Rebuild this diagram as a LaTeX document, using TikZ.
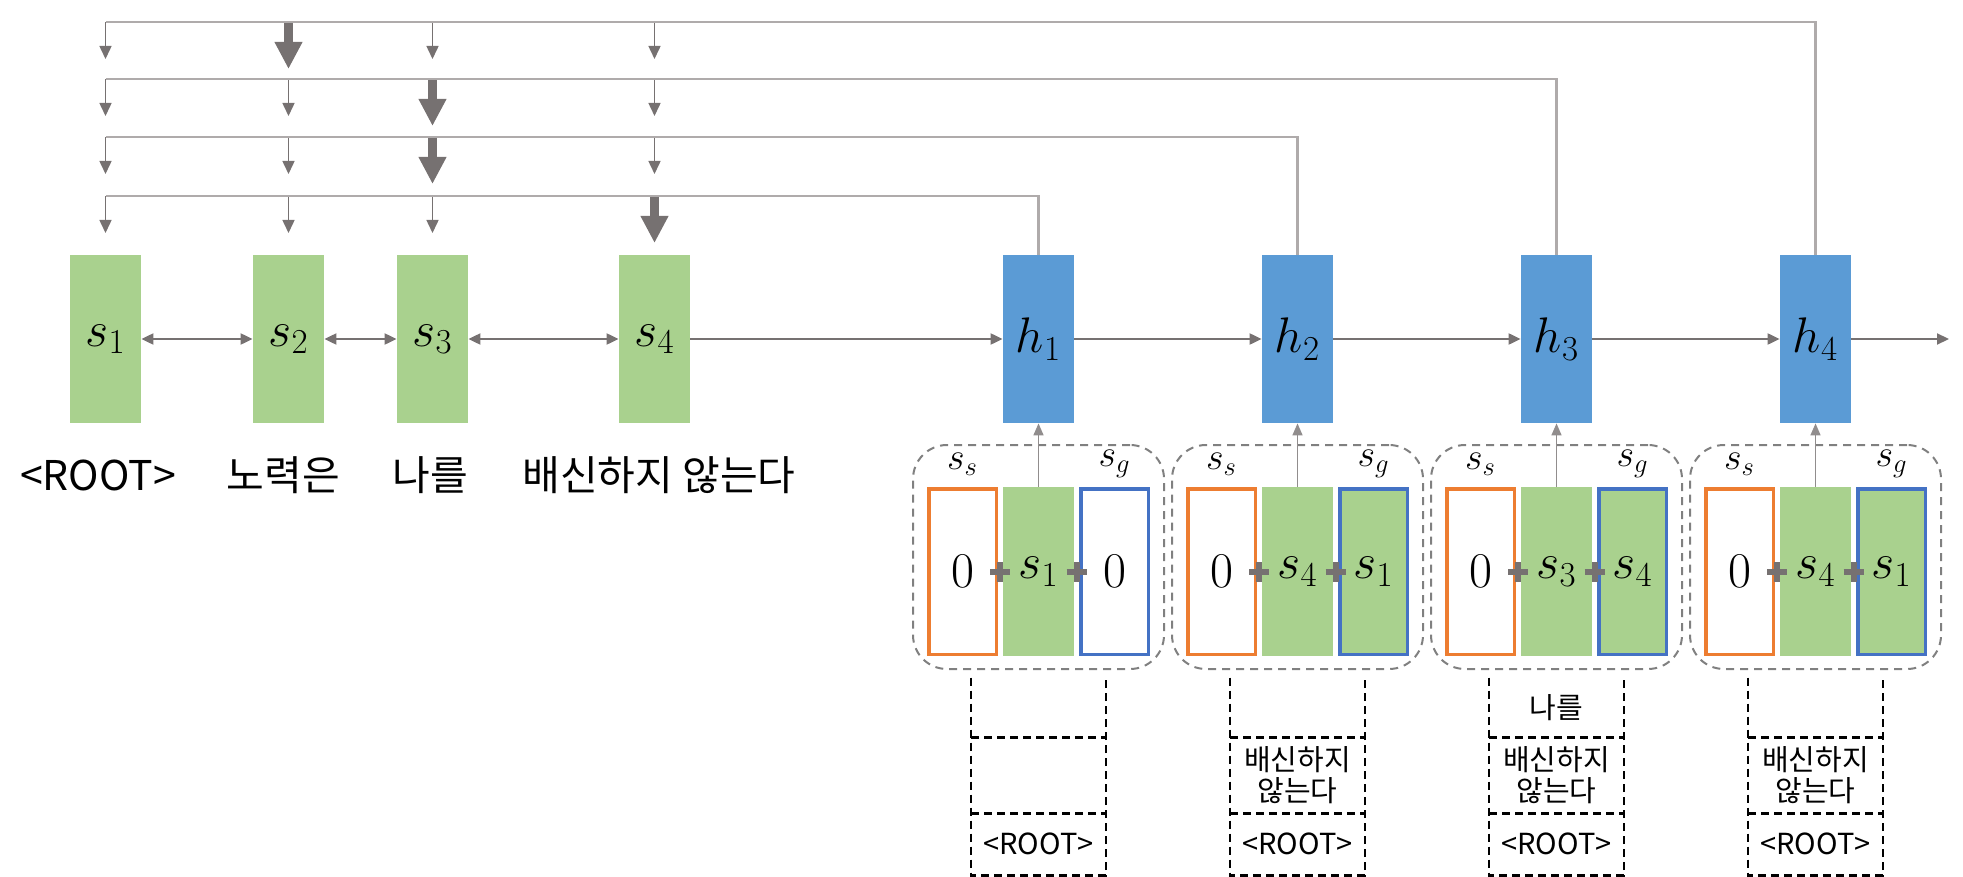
\RequirePackage{fix-cm}
\documentclass[tikz,border=0pt]{standalone}
\usepackage[no-math]{fontspec}
\newfontfamily\krfont{Noto Sans CJK KR}
\usetikzlibrary{arrows.meta,calc}
\definecolor{boxgreen}{HTML}{A9D18E}
\definecolor{boxblue}{HTML}{5B9BD5}
\definecolor{edgeorange}{HTML}{ED7D31}
\definecolor{edgeblue}{HTML}{4472C4}
\definecolor{arrowgray}{HTML}{767171}
\definecolor{linegray}{HTML}{AFABAB}
\definecolor{framegray}{HTML}{808080}

\begin{document}
\begin{tikzpicture}[
        vec/.style = {rectangle, inner sep = 0pt, minimum width = 35.5pt, minimum height = 84pt, font = \fontsize{25pt}{28pt}\selectfont},
        zbox/.style = {vec, line width = 1.75pt, minimum width = 33.75pt, minimum height = 82.75pt},
        word/.style = {inner sep = 0pt, font = \krfont\fontsize{20.5pt}{23pt}\selectfont},
        tag/.style = {inner sep = 0pt, font = \fontsize{19pt}{21pt}\selectfont},
        cell/.style = {rectangle, inner sep = 0pt, minimum width = 67pt, align = center, font = \krfont\fontsize{14.5pt}{15.5pt}\selectfont},
        frame/.style = {draw = framegray, line width = 1pt, dash pattern = on 4pt off 3pt, rounded corners = 17pt, minimum width = 125.5pt, minimum height = 112pt},
        stack/.style = {draw = black, line width = 1.2pt, dash pattern = on 4pt off 2.5pt},
        link/.style = {draw = arrowgray, line width = 1pt, -{Triangle[length = 6pt, width = 5.5pt]}},
        both/.style = {link, {Triangle[length = 6pt, width = 5.5pt]}-{Triangle[length = 6pt, width = 5.5pt]}},
        pick/.style = {draw = arrowgray, line width = 0.75pt, -{Triangle[length = 6.5pt, width = 6pt]}},
        bigpick/.style = {draw = arrowgray, line width = 4.5pt, -{Triangle[length = 13.5pt, width = 13pt]}},
        feed/.style = {draw = linegray, line width = 1.2pt},
        up/.style = {draw = arrowgray!80, line width = 0.75pt, -{Triangle[length = 6pt, width = 5pt]}},
        plus/.style = {draw = arrowgray, line width = 3pt}
    ]

        \useasboundingbox (0pt, 0pt) rectangle (981.5pt, -438.5pt);

        % Sentence
        \node [vec, fill = boxgreen] (s1) at (52.75pt, -169.5pt) {$s_1$};
        \node [vec, fill = boxgreen] (s2) at (144.25pt, -169.5pt) {$s_2$};
        \node [vec, fill = boxgreen] (s3) at (216.25pt, -169.5pt) {$s_3$};
        \node [vec, fill = boxgreen] (s4) at (327.25pt, -169.5pt) {$s_4$};

        \node [word] (w1) at (49pt, -237.5pt) {<ROOT>};
        \node [word] (w2) at (141.75pt, -237.5pt) {노력은};
        \node [word] (w3) at (215.25pt, -237.5pt) {나를};
        \node [word] (w4) at (329.5pt, -237.5pt) {배신하지 않는다};

        % Decoder
        \node [vec, fill = boxblue] (h1) at (519.25pt, -169.5pt) {$h_1$};
        \node [vec, fill = boxblue] (h2) at (648.75pt, -169.5pt) {$h_2$};
        \node [vec, fill = boxblue] (h3) at (778.25pt, -169.5pt) {$h_3$};
        \node [vec, fill = boxblue] (h4) at (907.75pt, -169.5pt) {$h_4$};
        \coordinate (out) at (974.5pt, -169.5pt);

        % Short Direction
        \draw [both] (s1.east) -- (s2.west);
        \draw [both] (s2.east) -- (s3.west);
        \draw [both] (s3.east) -- (s4.west);
        \draw [link] (s4.east) -- (h1.west);
        \draw [link] (h1.east) -- (h2.west);
        \draw [link] (h2.east) -- (h3.west);
        \draw [link] (h3.east) -- (h4.west);
        \draw [link] (h4.east) -- (out);

        % Pointer rows
        \coordinate (r1) at (0pt, -98pt);
        \coordinate (r2) at (0pt, -68.5pt);
        \coordinate (r3) at (0pt, -39.5pt);
        \coordinate (r4) at (0pt, -11pt);

        \draw [pick] (s1 |- r1) -- ++(0pt, -18.5pt);
        \draw [pick] (s2 |- r1) -- ++(0pt, -18.5pt);
        \draw [pick] (s3 |- r1) -- ++(0pt, -18.5pt);
        \draw [bigpick] (s4 |- r1) -- ++(0pt, -23.5pt);

        \draw [pick] (s1 |- r2) -- ++(0pt, -18.5pt);
        \draw [pick] (s2 |- r2) -- ++(0pt, -18.5pt);
        \draw [bigpick] (s3 |- r2) -- ++(0pt, -23.5pt);
        \draw [pick] (s4 |- r2) -- ++(0pt, -18.5pt);

        \draw [pick] (s1 |- r3) -- ++(0pt, -18.5pt);
        \draw [pick] (s2 |- r3) -- ++(0pt, -18.5pt);
        \draw [bigpick] (s3 |- r3) -- ++(0pt, -23.5pt);
        \draw [pick] (s4 |- r3) -- ++(0pt, -18.5pt);

        \draw [pick] (s1 |- r4) -- ++(0pt, -18.5pt);
        \draw [bigpick] (s2 |- r4) -- ++(0pt, -23.5pt);
        \draw [pick] (s3 |- r4) -- ++(0pt, -18.5pt);
        \draw [pick] (s4 |- r4) -- ++(0pt, -18.5pt);

        \draw [feed] (h1.north) |- (s1 |- r1);
        \draw [feed] (h2.north) |- (s1 |- r2);
        \draw [feed] (h3.north) |- (s1 |- r3);
        \draw [feed] (h4.north) |- (s1 |- r4);

        % Inputs of h1
        \node [frame] (grp1) at (519.25pt, -278.5pt) {};
        \node [zbox, draw = edgeorange, fill = white] (ss1) at (481.25pt, -285.75pt) {$0$};
        \node [vec, minimum height = 84.5pt, fill = boxgreen] (in1) at (519.25pt, -285.75pt) {$s_1$};
        \node [zbox, draw = edgeblue, fill = white] (sg1) at (557.25pt, -285.75pt) {$0$};
        \node [tag] (lss1) at (ss1.north |- 0pt, -232pt) {$s_s$};
        \node [tag] (lsg1) at (sg1.north |- 0pt, -232pt) {$s_g$};
        \draw [plus] ($(ss1.east)!0.5!(in1.west)$) +(-5pt, 0pt) -- +(5pt, 0pt) +(0pt, -5pt) -- +(0pt, 5pt);
        \draw [plus] ($(in1.east)!0.5!(sg1.west)$) +(-5pt, 0pt) -- +(5pt, 0pt) +(0pt, -5pt) -- +(0pt, 5pt);
        \draw [up] (in1.north) -- (h1.south);

        % Inputs of h2
        \node [frame] (grp2) at (648.75pt, -278.5pt) {};
        \node [zbox, draw = edgeorange, fill = white] (ss2) at (610.75pt, -285.75pt) {$0$};
        \node [vec, minimum height = 84.5pt, fill = boxgreen] (in2) at (648.75pt, -285.75pt) {$s_4$};
        \node [zbox, draw = edgeblue, fill = boxgreen] (sg2) at (686.75pt, -285.75pt) {$s_1$};
        \node [tag] (lss2) at (ss2.north |- 0pt, -232pt) {$s_s$};
        \node [tag] (lsg2) at (sg2.north |- 0pt, -232pt) {$s_g$};
        \draw [plus] ($(ss2.east)!0.5!(in2.west)$) +(-5pt, 0pt) -- +(5pt, 0pt) +(0pt, -5pt) -- +(0pt, 5pt);
        \draw [plus] ($(in2.east)!0.5!(sg2.west)$) +(-5pt, 0pt) -- +(5pt, 0pt) +(0pt, -5pt) -- +(0pt, 5pt);
        \draw [up] (in2.north) -- (h2.south);

        % Inputs of h3
        \node [frame] (grp3) at (778.25pt, -278.5pt) {};
        \node [zbox, draw = edgeorange, fill = white] (ss3) at (740.25pt, -285.75pt) {$0$};
        \node [vec, minimum height = 84.5pt, fill = boxgreen] (in3) at (778.25pt, -285.75pt) {$s_3$};
        \node [zbox, draw = edgeblue, fill = boxgreen] (sg3) at (816.25pt, -285.75pt) {$s_4$};
        \node [tag] (lss3) at (ss3.north |- 0pt, -232pt) {$s_s$};
        \node [tag] (lsg3) at (sg3.north |- 0pt, -232pt) {$s_g$};
        \draw [plus] ($(ss3.east)!0.5!(in3.west)$) +(-5pt, 0pt) -- +(5pt, 0pt) +(0pt, -5pt) -- +(0pt, 5pt);
        \draw [plus] ($(in3.east)!0.5!(sg3.west)$) +(-5pt, 0pt) -- +(5pt, 0pt) +(0pt, -5pt) -- +(0pt, 5pt);
        \draw [up] (in3.north) -- (h3.south);

        % Inputs of h4
        \node [frame] (grp4) at (907.75pt, -278.5pt) {};
        \node [zbox, draw = edgeorange, fill = white] (ss4) at (869.75pt, -285.75pt) {$0$};
        \node [vec, minimum height = 84.5pt, fill = boxgreen] (in4) at (907.75pt, -285.75pt) {$s_4$};
        \node [zbox, draw = edgeblue, fill = boxgreen] (sg4) at (945.75pt, -285.75pt) {$s_1$};
        \node [tag] (lss4) at (ss4.north |- 0pt, -232pt) {$s_s$};
        \node [tag] (lsg4) at (sg4.north |- 0pt, -232pt) {$s_g$};
        \draw [plus] ($(ss4.east)!0.5!(in4.west)$) +(-5pt, 0pt) -- +(5pt, 0pt) +(0pt, -5pt) -- +(0pt, 5pt);
        \draw [plus] ($(in4.east)!0.5!(sg4.west)$) +(-5pt, 0pt) -- +(5pt, 0pt) +(0pt, -5pt) -- +(0pt, 5pt);
        \draw [up] (in4.north) -- (h4.south);

        % Stacks
        \node [cell, minimum height = 30pt] (top1) at (519.25pt, -354pt) {};
        \node [cell, minimum height = 37.5pt] (mid1) at (519.25pt, -387.75pt) {};
        \node [cell, minimum height = 31pt] (bot1) at (519.25pt, -422pt) {<ROOT>};
        \draw [stack] (top1.north west) -- (bot1.south west) -- (bot1.south east) -- (top1.north east);
        \draw [stack] (mid1.north west) -- (mid1.north east) (mid1.south west) -- (mid1.south east);

        \node [cell, minimum height = 30pt] (top2) at (648.75pt, -354pt) {};
        \node [cell, minimum height = 37.5pt] (mid2) at (648.75pt, -387.75pt) {배신하지\\않는다};
        \node [cell, minimum height = 31pt] (bot2) at (648.75pt, -422pt) {<ROOT>};
        \draw [stack] (top2.north west) -- (bot2.south west) -- (bot2.south east) -- (top2.north east);
        \draw [stack] (mid2.north west) -- (mid2.north east) (mid2.south west) -- (mid2.south east);

        \node [cell, minimum height = 30pt] (top3) at (778.25pt, -354pt) {나를};
        \node [cell, minimum height = 37.5pt] (mid3) at (778.25pt, -387.75pt) {배신하지\\않는다};
        \node [cell, minimum height = 31pt] (bot3) at (778.25pt, -422pt) {<ROOT>};
        \draw [stack] (top3.north west) -- (bot3.south west) -- (bot3.south east) -- (top3.north east);
        \draw [stack] (mid3.north west) -- (mid3.north east) (mid3.south west) -- (mid3.south east);

        \node [cell, minimum height = 30pt] (top4) at (907.75pt, -354pt) {};
        \node [cell, minimum height = 37.5pt] (mid4) at (907.75pt, -387.75pt) {배신하지\\않는다};
        \node [cell, minimum height = 31pt] (bot4) at (907.75pt, -422pt) {<ROOT>};
        \draw [stack] (top4.north west) -- (bot4.south west) -- (bot4.south east) -- (top4.north east);
        \draw [stack] (mid4.north west) -- (mid4.north east) (mid4.south west) -- (mid4.south east);

    \end{tikzpicture}
\end{document}
